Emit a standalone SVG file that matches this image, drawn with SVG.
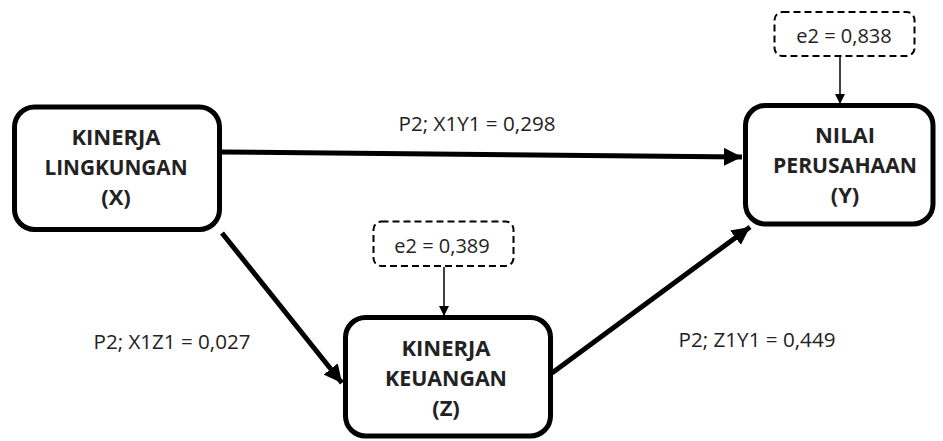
<svg xmlns="http://www.w3.org/2000/svg" width="943" height="441" viewBox="0 0 943 441">
<style>
.node{fill:#fff;stroke:#000;stroke-width:5}
.err{fill:#fff;stroke:#000;stroke-width:2;stroke-dasharray:7 4}
.nt{font-family:"Open Sans","Noto Sans",sans-serif;font-weight:bold;font-size:22px;fill:#222;text-anchor:middle}
.lt{font-family:"Open Sans","Noto Sans",sans-serif;font-size:20px;fill:#222;text-anchor:middle}
.big{stroke:#000;stroke-width:5;fill:none;marker-end:url(#ah)}
.thin{stroke:#000;stroke-width:1.5;fill:none;marker-end:url(#ahs)}
</style>
<defs>
<marker id="ah" viewBox="0 0 10 10" refX="10" refY="5" markerWidth="3.6" markerHeight="3.6" orient="auto" markerUnits="strokeWidth">
<path d="M0,0 L10,5 L0,10 z" fill="#000"/>
</marker>
<marker id="ahs" viewBox="0 0 10 10" refX="10" refY="5" markerWidth="7" markerHeight="7" orient="auto" markerUnits="strokeWidth">
<path d="M0,0 L10,5 L0,10 z" fill="#000"/>
</marker>
</defs>
<g id="connectors">
<line class="big" x1="222" y1="152" x2="742" y2="157"/>
<line class="big" x1="222" y1="233" x2="342" y2="383"/>
<line class="big" x1="552" y1="373" x2="750" y2="227"/>
<line class="thin" x1="840" y1="57" x2="840" y2="104"/>
<line class="thin" x1="444" y1="267" x2="444" y2="316"/>
</g>
<g id="labels">
<text class="lt" x="477" y="131" textLength="157" lengthAdjust="spacingAndGlyphs">P2; X1Y1 = 0,298</text>
<text class="lt" x="172" y="349" textLength="157" lengthAdjust="spacingAndGlyphs">P2; X1Z1 = 0,027</text>
<text class="lt" x="757" y="347" textLength="157" lengthAdjust="spacingAndGlyphs">P2; Z1Y1 = 0,449</text>
</g>
<g id="nodeX">
<rect class="node" x="14.5" y="107" width="205" height="122.5" rx="20"/>
<text class="nt" x="116" y="145">KINERJA</text>
<text class="nt" x="116" y="175" textLength="143" lengthAdjust="spacingAndGlyphs">LINGKUNGAN</text>
<text class="nt" x="116" y="205">(X)</text>
</g>
<g id="nodeY">
<rect class="node" x="745.5" y="105.5" width="187.5" height="118.5" rx="20"/>
<text class="nt" x="845" y="143">NILAI</text>
<text class="nt" x="845" y="173" textLength="144" lengthAdjust="spacingAndGlyphs">PERUSAHAAN</text>
<text class="nt" x="845" y="203">(Y)</text>
</g>
<g id="nodeZ">
<rect class="node" x="345.5" y="317.5" width="205" height="118.5" rx="20"/>
<text class="nt" x="446" y="356">KINERJA</text>
<text class="nt" x="446" y="386" textLength="122" lengthAdjust="spacingAndGlyphs">KEUANGAN</text>
<text class="nt" x="446" y="416">(Z)</text>
</g>
<g id="errY">
<rect class="err" x="774.5" y="12" width="140" height="44" rx="8"/>
<text class="lt" x="844" y="43">e2 = 0,838</text>
</g>
<g id="errZ">
<rect class="err" x="373.5" y="221.5" width="140" height="44.5" rx="8"/>
<text class="lt" x="442" y="253">e2 = 0,389</text>
</g>
</svg>
